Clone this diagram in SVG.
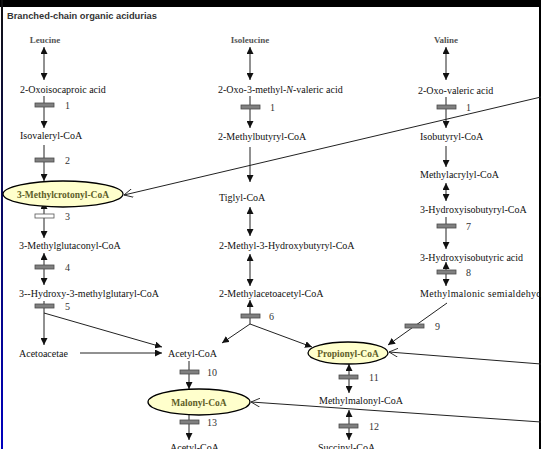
<svg xmlns="http://www.w3.org/2000/svg" width="541" height="449" viewBox="0 0 541 449">
<defs>
<style>
.t{font-family:"Liberation Serif","Times New Roman",serif;font-size:10px;fill:#111}
.h{font-family:"Liberation Serif",serif;font-size:9px;font-weight:bold;fill:#555;text-anchor:middle}
.n{font-family:"Liberation Serif",serif;font-size:10px;fill:#333}
.e{fill:#ffffcc;stroke:#000;stroke-width:1.3}
.et{font-family:"Liberation Serif",serif;font-size:9.5px;font-weight:bold;fill:#5e5e28;text-anchor:middle}
.c{stroke:#222;stroke-width:1;fill:none}
.ar{marker-end:url(#a)}
.da{marker-start:url(#a);marker-end:url(#a)}
.op{marker-end:url(#o)}
.z{fill:#808080;stroke:#4a4a4a;stroke-width:0.8}
.zw{fill:#fff;stroke:#555;stroke-width:0.8}
.it{font-style:italic}
</style>
<marker id="a" viewBox="0 0 10 10" refX="10" refY="5" markerWidth="7" markerHeight="7" markerUnits="userSpaceOnUse" orient="auto-start-reverse"><path d="M0,0 L10,5 L0,10 z" fill="#111"/></marker>
<marker id="o" viewBox="0 0 10 10" refX="10" refY="5" markerWidth="9" markerHeight="9" markerUnits="userSpaceOnUse" orient="auto"><path d="M0,0 L10,5 L0,10" fill="none" stroke="#222" stroke-width="1"/></marker>
<linearGradient id="lb" x1="0" y1="0" x2="0" y2="1"><stop offset="0" stop-color="#111"/><stop offset="1" stop-color="#0000c0"/></linearGradient>
</defs>
<rect width="541" height="449" fill="#fff"/>
<rect x="0" y="0" width="541" height="7" fill="#000"/>
<rect x="1" y="0" width="2" height="449" fill="url(#lb)"/>
<rect x="539" y="0" width="2" height="449" fill="#000"/>
<text x="7" y="19" style="font-family:'Liberation Sans',Arial,sans-serif;font-size:9.3px;font-weight:bold;fill:#333">Branched-chain organic acidurias</text>

<g id="connectors">
<line class="c da" x1="44" y1="47" x2="44" y2="80"/>
<line class="c ar" x1="44" y1="96" x2="44" y2="128"/>
<line class="c ar" x1="44" y1="145" x2="44" y2="181"/>
<line class="c da" x1="44" y1="202" x2="44" y2="238"/>
<line class="c da" x1="44" y1="253" x2="44" y2="285"/>
<line class="c ar" x1="44" y1="301" x2="44" y2="345"/>
<line class="c ar" x1="44" y1="313" x2="162" y2="347"/>
<line class="c ar" x1="80" y1="353" x2="162" y2="353"/>
<line class="c ar" x1="189" y1="361" x2="189" y2="389"/>
<line class="c ar" x1="189" y1="410" x2="189" y2="440"/>
<line class="c da" x1="250" y1="47" x2="250" y2="80"/>
<line class="c ar" x1="250" y1="96" x2="250" y2="128"/>
<line class="c ar" x1="250" y1="147" x2="250" y2="182"/>
<line class="c da" x1="250" y1="207" x2="250" y2="236"/>
<line class="c da" x1="250" y1="254" x2="250" y2="286"/>
<line class="c ar" x1="250" y1="324" x2="250" y2="300"/>
<line class="c ar" x1="250" y1="324" x2="222" y2="343"/>
<line class="c ar" x1="250" y1="324" x2="312" y2="347"/>
<line class="c da" x1="349" y1="364" x2="349" y2="393"/>
<line class="c da" x1="349" y1="410" x2="349" y2="440"/>
<line class="c da" x1="446" y1="47" x2="446" y2="80"/>
<line class="c ar" x1="446" y1="97" x2="446" y2="128"/>
<line class="c ar" x1="446" y1="146" x2="446" y2="167"/>
<line class="c da" x1="446" y1="183" x2="446" y2="201"/>
<line class="c ar" x1="446" y1="217" x2="446" y2="249"/>
<line class="c da" x1="446" y1="262" x2="446" y2="286"/>
<line class="c ar" x1="447" y1="303" x2="388" y2="345"/>
<line class="c op" x1="541" y1="97" x2="124" y2="195"/>
<line class="c op" x1="541" y1="364" x2="389" y2="352"/>
<line class="c op" x1="541" y1="422" x2="251" y2="402"/>
</g>

<g id="enzymes">
<rect class="z" x="35" y="103" width="19" height="4"/><text class="n" x="65" y="109">1</text>
<rect class="z" x="35" y="158" width="19" height="4"/><text class="n" x="65" y="164">2</text>
<rect class="zw" x="35" y="214" width="19" height="4"/><text class="n" x="65" y="220">3</text>
<rect class="z" x="35" y="265" width="19" height="4"/><text class="n" x="65" y="271">4</text>
<rect class="z" x="35" y="304" width="19" height="4"/><text class="n" x="65" y="310">5</text>
<rect class="z" x="180" y="370" width="19" height="4"/><text class="n" x="207" y="376">10</text>
<rect class="z" x="180" y="420" width="19" height="4"/><text class="n" x="207" y="426">13</text>
<rect class="z" x="241" y="105" width="19" height="4"/><text class="n" x="270" y="111">1</text>
<rect class="z" x="241" y="314" width="19" height="4"/><text class="n" x="269" y="320">6</text>
<rect class="z" x="339" y="375" width="19" height="4"/><text class="n" x="369" y="381">11</text>
<rect class="z" x="339" y="424" width="19" height="4"/><text class="n" x="369" y="430">12</text>
<rect class="z" x="437" y="105" width="19" height="4"/><text class="n" x="466" y="111">1</text>
<rect class="z" x="437" y="224" width="19" height="4"/><text class="n" x="466" y="230">7</text>
<rect class="z" x="437" y="270" width="19" height="4"/><text class="n" x="466" y="276">8</text>
<rect class="z" x="405" y="324" width="19" height="4"/><text class="n" x="435" y="330">9</text>
</g>

<g id="n-leucine"><text class="h" x="45" y="43">Leucine</text></g>
<g id="n-oxoisocaproic"><text class="t" x="20" y="93">2-Oxoisocaproic acid</text></g>
<g id="n-isovaleryl"><text class="t" x="20" y="139">Isovaleryl-CoA</text></g>
<g id="n-methylcrotonyl"><ellipse class="e" cx="63" cy="194" rx="60" ry="13"/><text class="et" x="63" y="198">3-Methylcrotonyl-CoA</text></g>
<g id="n-methylglutaconyl"><text class="t" x="19" y="249">3-Methylglutaconyl-CoA</text></g>
<g id="n-hmg"><text class="t" x="19" y="297">3--Hydroxy-3-methylglutaryl-CoA</text></g>
<g id="n-acetoacetae"><text class="t" x="19" y="357">Acetoacetae</text></g>
<g id="n-acetylcoa"><text class="t" x="168" y="357">Acetyl-CoA</text></g>
<g id="n-malonyl"><ellipse class="e" cx="199" cy="402" rx="51" ry="13"/><text class="et" x="199" y="406">Malonyl-CoA</text></g>
<g id="n-acetylcoa2"><text class="t" x="170" y="451">Acetyl-CoA</text></g>

<g id="n-isoleucine"><text class="h" x="250" y="43">Isoleucine</text></g>
<g id="n-oxomethylvaleric"><text class="t" x="218" y="93">2-Oxo-3-methyl-<tspan class="it">N</tspan>-valeric acid</text></g>
<g id="n-methylbutyryl"><text class="t" x="218" y="140">2-Methylbutyryl-CoA</text></g>
<g id="n-tiglyl"><text class="t" x="219" y="201">Tiglyl-CoA</text></g>
<g id="n-mhb"><text class="t" x="219" y="249">2-Methyl-3-Hydroxybutyryl-CoA</text></g>
<g id="n-methylacetoacetyl"><text class="t" x="219" y="297">2-Methylacetoacetyl-CoA</text></g>
<g id="n-propionyl"><ellipse class="e" cx="348" cy="353" rx="40" ry="11"/><text class="et" x="348" y="357">Propionyl-CoA</text></g>
<g id="n-methylmalonyl"><text class="t" x="319" y="404">Methylmalonyl-CoA</text></g>
<g id="n-succinyl"><text class="t" x="318" y="451">Succinyl-CoA</text></g>

<g id="n-valine"><text class="h" x="446" y="43">Valine</text></g>
<g id="n-oxovaleric"><text class="t" x="418" y="94">2-Oxo-valeric acid</text></g>
<g id="n-isobutyryl"><text class="t" x="420" y="140">Isobutyryl-CoA</text></g>
<g id="n-methylacrylyl"><text class="t" x="420" y="178">Methylacrylyl-CoA</text></g>
<g id="n-hib-coa"><text class="t" x="420" y="213">3-Hydroxyisobutyryl-CoA</text></g>
<g id="n-hib-acid"><text class="t" x="420" y="261">3-Hydroxyisobutyric acid</text></g>
<g id="n-mmsa"><text class="t" x="420" y="297" letter-spacing="0.3">Methylmalonic semialdehyd</text></g>
</svg>
